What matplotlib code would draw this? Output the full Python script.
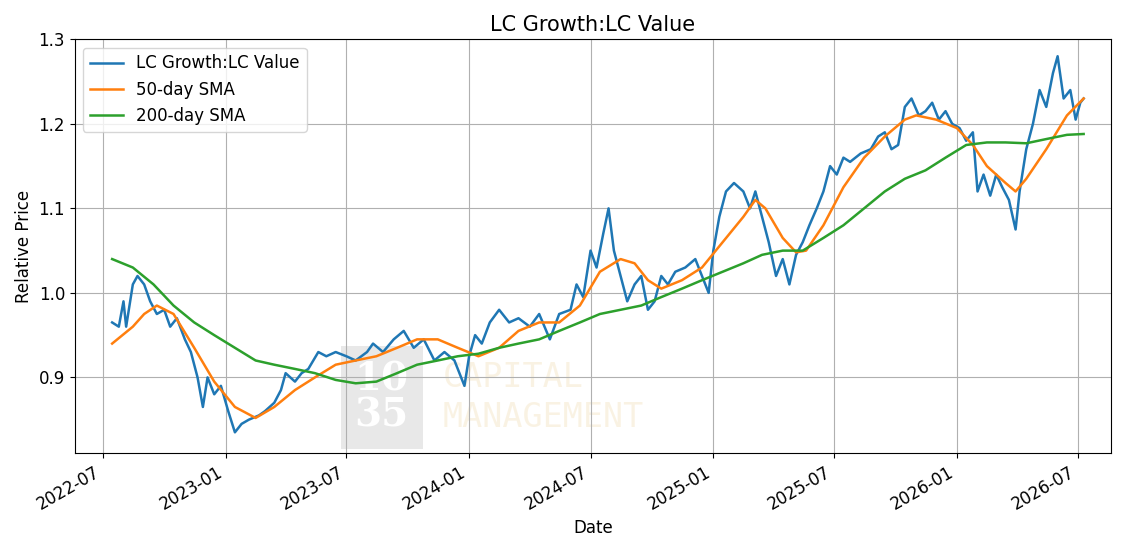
import matplotlib.pyplot as plt
import matplotlib.dates as mdates
import pandas as pd

ratio_dates = ['2022-07-15','2022-07-25','2022-08-01','2022-08-05','2022-08-15','2022-08-22','2022-09-01','2022-09-10','2022-09-20','2022-10-01','2022-10-10','2022-10-20','2022-11-01','2022-11-10','2022-11-20','2022-11-28','2022-12-05','2022-12-15','2022-12-25',
    '2023-01-05','2023-01-15','2023-01-25','2023-02-05','2023-02-20','2023-03-01','2023-03-15','2023-03-25','2023-04-01','2023-04-15','2023-04-25','2023-05-05','2023-05-20','2023-06-01','2023-06-15','2023-07-01','2023-07-15','2023-08-01','2023-08-10','2023-08-25','2023-09-10','2023-09-25','2023-10-10','2023-10-25','2023-11-10','2023-11-25','2023-12-10','2023-12-25',
    '2024-01-01','2024-01-10','2024-01-20','2024-02-01','2024-02-15','2024-03-01','2024-03-15','2024-04-01','2024-04-15','2024-05-01','2024-05-15','2024-06-01','2024-06-10','2024-06-20','2024-07-01','2024-07-10','2024-07-20','2024-07-28','2024-08-05','2024-08-15','2024-08-25','2024-09-05','2024-09-15','2024-09-25','2024-10-05','2024-10-15','2024-10-25','2024-11-05','2024-11-20','2024-12-05','2024-12-15','2024-12-25',
    '2025-01-01','2025-01-10','2025-01-20','2025-02-01','2025-02-15','2025-02-25','2025-03-05','2025-03-15','2025-03-25','2025-04-05','2025-04-15','2025-04-25','2025-05-05','2025-05-15','2025-05-25','2025-06-05','2025-06-15','2025-06-25','2025-07-05','2025-07-15','2025-07-25','2025-08-10','2025-08-25','2025-09-05','2025-09-15','2025-09-25','2025-10-05','2025-10-15','2025-10-25','2025-11-05','2025-11-15','2025-11-25','2025-12-05','2025-12-15','2025-12-25',
    '2026-01-05','2026-01-15','2026-01-25','2026-02-01','2026-02-10','2026-02-20','2026-03-01','2026-03-10','2026-03-20','2026-03-30','2026-04-05','2026-04-15','2026-04-25','2026-05-05','2026-05-15','2026-05-25','2026-06-01','2026-06-10','2026-06-20','2026-06-28','2026-07-05','2026-07-10']
ratio = [0.965,0.96,0.99,0.96,1.01,1.02,1.01,0.99,0.975,0.98,0.96,0.97,0.945,0.93,0.90,0.865,0.90,0.88,0.89,
    0.86,0.835,0.845,0.85,0.855,0.86,0.87,0.885,0.905,0.895,0.905,0.91,0.93,0.925,0.93,0.925,0.92,0.93,0.94,0.93,0.945,0.955,0.935,0.945,0.92,0.93,0.92,0.89,
    0.925,0.95,0.94,0.965,0.98,0.965,0.97,0.96,0.975,0.945,0.975,0.98,1.01,0.995,1.05,1.03,1.07,1.10,1.05,1.02,0.99,1.01,1.02,0.98,0.99,1.02,1.01,1.025,1.03,1.04,1.02,1.00,
    1.05,1.09,1.12,1.13,1.12,1.10,1.12,1.09,1.06,1.02,1.04,1.01,1.045,1.06,1.08,1.10,1.12,1.15,1.14,1.16,1.155,1.165,1.17,1.185,1.19,1.17,1.175,1.22,1.23,1.21,1.215,1.225,1.205,1.215,1.20,
    1.195,1.18,1.19,1.12,1.14,1.115,1.14,1.125,1.11,1.075,1.12,1.17,1.20,1.24,1.22,1.26,1.28,1.23,1.24,1.205,1.225,1.23]

sma50_dates = ['2022-07-15','2022-08-15','2022-09-01','2022-09-20','2022-10-15','2022-11-15','2022-12-15','2023-01-15','2023-02-15','2023-03-15','2023-04-15','2023-05-15','2023-06-15','2023-07-15','2023-08-15','2023-09-15','2023-10-15','2023-11-15','2023-12-15',
    '2024-01-15','2024-02-15','2024-03-15','2024-04-15','2024-05-15','2024-06-15','2024-07-15','2024-08-15','2024-09-05','2024-09-25','2024-10-15','2024-11-15','2024-12-15',
    '2025-01-15','2025-02-15','2025-03-05','2025-03-20','2025-04-15','2025-05-05','2025-05-20','2025-06-15','2025-07-15','2025-08-15','2025-09-15','2025-10-15','2025-11-01','2025-12-01',
    '2026-01-01','2026-01-25','2026-02-15','2026-03-15','2026-03-30','2026-04-15','2026-05-15','2026-06-15','2026-07-10']
sma50 = [0.94,0.96,0.975,0.985,0.975,0.935,0.895,0.865,0.852,0.865,0.885,0.90,0.915,0.92,0.925,0.935,0.945,0.945,0.935,
    0.925,0.935,0.955,0.965,0.965,0.985,1.025,1.04,1.035,1.015,1.005,1.015,1.03,
    1.06,1.09,1.11,1.10,1.065,1.048,1.05,1.08,1.125,1.16,1.185,1.205,1.21,1.205,
    1.195,1.175,1.15,1.13,1.12,1.135,1.17,1.21,1.23]

sma200_dates = ['2022-07-15','2022-08-15','2022-09-15','2022-10-15','2022-11-15','2022-12-15','2023-01-15','2023-02-15','2023-03-15','2023-04-15','2023-05-15','2023-06-15','2023-07-15','2023-08-15','2023-09-15','2023-10-15','2023-11-15','2023-12-15',
    '2024-01-15','2024-02-15','2024-03-15','2024-04-15','2024-05-15','2024-06-15','2024-07-15','2024-08-15','2024-09-15','2024-10-15','2024-11-15','2024-12-15',
    '2025-01-15','2025-02-15','2025-03-15','2025-04-15','2025-05-15','2025-06-15','2025-07-15','2025-08-15','2025-09-15','2025-10-15','2025-11-15','2025-12-15',
    '2026-01-15','2026-02-15','2026-03-15','2026-04-15','2026-05-15','2026-06-15','2026-07-10']
sma200 = [1.04,1.03,1.01,0.985,0.965,0.95,0.935,0.92,0.915,0.91,0.905,0.897,0.893,0.895,0.905,0.915,0.92,0.925,
    0.928,0.935,0.94,0.945,0.955,0.965,0.975,0.98,0.985,0.995,1.005,1.015,
    1.025,1.035,1.045,1.05,1.05,1.065,1.08,1.10,1.12,1.135,1.145,1.16,
    1.175,1.178,1.178,1.177,1.182,1.187,1.188]

fig, ax = plt.subplots(figsize=(11.26, 5.52), dpi=100)

ax.plot(pd.to_datetime(ratio_dates), ratio, color='#1f77b4', lw=1.8, label='LC Growth:LC Value')
ax.plot(pd.to_datetime(sma50_dates), sma50, color='#ff7f0e', lw=1.8, label='50-day SMA')
ax.plot(pd.to_datetime(sma200_dates), sma200, color='#2ca02c', lw=1.8, label='200-day SMA')

# watermark
ax.text(0.27, 0.135, '10\n35', transform=ax.transAxes, fontsize=28, color='white', family='serif',
        fontweight='bold', ha='left', va='center', linespacing=0.95,
        bbox=dict(facecolor='#d9d9d9', edgecolor='none', alpha=0.6, pad=10), zorder=0)
ax.text(0.355, 0.135, 'CAPITAL\nMANAGEMENT', transform=ax.transAxes, fontsize=24, color='#f5e6c8',
        family='monospace', ha='left', va='center', alpha=0.5, zorder=0, linespacing=1.3)

ax.set_xlim(pd.Timestamp('2022-05-20'), pd.Timestamp('2026-08-20'))
ax.set_ylim(0.81, 1.30)
ax.xaxis.set_major_locator(mdates.MonthLocator(bymonth=[1, 7]))
ax.xaxis.set_major_formatter(mdates.DateFormatter('%Y-%m'))
ax.grid(True, color='#b0b0b0')
ax.set_title('LC Growth:LC Value', fontsize=15)
ax.set_xlabel('Date', fontsize=12)
ax.set_ylabel('Relative Price', fontsize=12)
ax.tick_params(labelsize=12)
ax.legend(loc='upper left', fontsize=12)
fig.autofmt_xdate()
plt.tight_layout()
plt.savefig('out.png')
